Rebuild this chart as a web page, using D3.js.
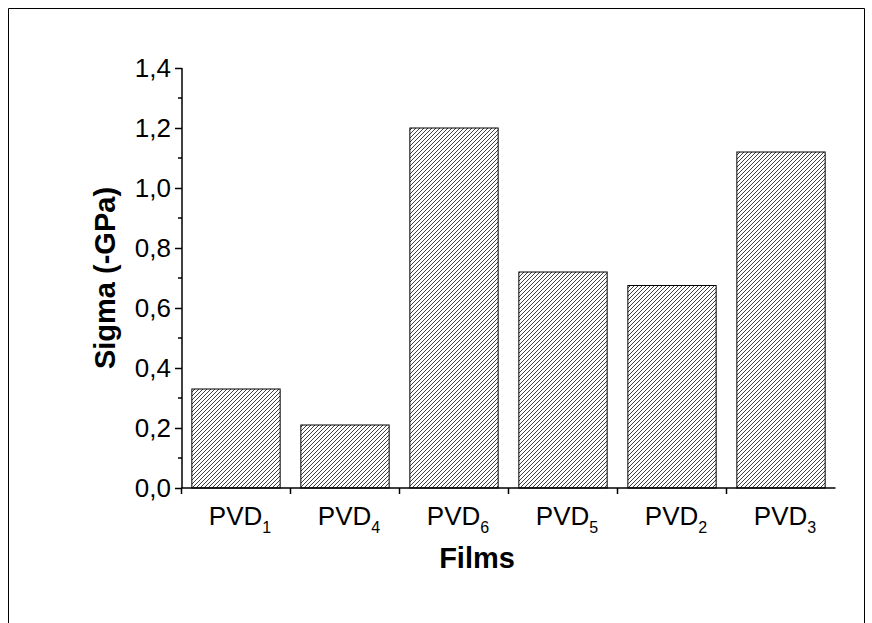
<!DOCTYPE html><html><head><script src="https://cdn.jsdelivr.net/npm/d3@7"></script>
<style>body{margin:0;background:#fff}</style></head><body><svg id="c" width="872" height="623"></svg>
<script>
const categories=["1","4","6","5","2","3"];
const values=[0.33,0.21,1.2,0.72,0.675,1.12];
const yTicks=[0,0.2,0.4,0.6,0.8,1.0,1.2,1.4];
const svg=d3.select("#c");
svg.append("path").attr("d","M8.5,623 V8.5 H864.5 V623").attr("fill","none").attr("stroke","#000");
const defs=svg.append("defs");
const p=defs.append("pattern").attr("id","h").attr("patternUnits","userSpaceOnUse").attr("width",4).attr("height",4);
p.append("path").attr("d","M-1,5 L5,-1 M-1,1 L1,-1 M3,5 L5,3").attr("stroke","#000").attr("stroke-width",0.75);
const x=d3.scaleBand().domain(categories).range([181.5,835.5]).paddingInner(0.19).paddingOuter(0.095);
const y=d3.scaleLinear().domain([0,1.4]).range([488,68]);
svg.selectAll("rect.b").data(values).enter().append("rect")
 .attr("x",(d,i)=>x(categories[i])).attr("width",x.bandwidth())
 .attr("y",d=>y(d)).attr("height",d=>488-y(d))
 .attr("fill","url(#h)").attr("stroke","#000").attr("stroke-width",1);
const ya=svg.append("g").attr("transform","translate(182,0)")
 .call(d3.axisLeft(y).tickValues(yTicks).tickSize(7).tickFormat(d=>d3.format(".1f")(d).replace(".",",")));
ya.selectAll(".tick line").attr("stroke-width",1.5);
ya.select(".domain").attr("stroke-width",1.5).attr("d","M0,68V488");
ya.selectAll("text").attr("font-family","Arial, Liberation Sans").attr("font-size",26).attr("fill","#000").attr("dx",-1);
const minor=d3.range(0.1,1.4,0.2);
svg.selectAll("line.m").data(minor).enter().append("line").attr("x1",178).attr("x2",182).attr("y1",d=>y(d)).attr("y2",d=>y(d)).attr("stroke","#000").attr("stroke-width",1.5);
svg.append("line").attr("x1",181).attr("x2",835.5).attr("y1",488).attr("y2",488).attr("stroke","#000").attr("stroke-width",1.5);
const step=x.step();
categories.forEach((c,i)=>{
 const bx=x(c)-step*0.19/2;
 svg.append("line").attr("x1",bx).attr("x2",bx).attr("y1",488).attr("y2",494).attr("stroke","#000").attr("stroke-width",1.5);
 const cx=x(c)+x.bandwidth()/2;
 const t=svg.append("text").attr("x",cx+4).attr("y",525).attr("text-anchor","middle").attr("font-family","Arial, Liberation Sans").attr("font-size",26);
 t.append("tspan").text("PVD");
 t.append("tspan").attr("font-size",16).attr("dy",8).text(c);
});
svg.append("text").attr("x",477).attr("y",568).attr("text-anchor","middle").attr("font-family","Arial, Liberation Sans").attr("font-weight","bold").attr("font-size",29).text("Films");
svg.append("text").attr("transform","translate(115,278) rotate(-90)").attr("text-anchor","middle").attr("font-family","Arial, Liberation Sans").attr("font-weight","bold").attr("font-size",29).text("Sigma (-GPa)");
</script></body></html>
